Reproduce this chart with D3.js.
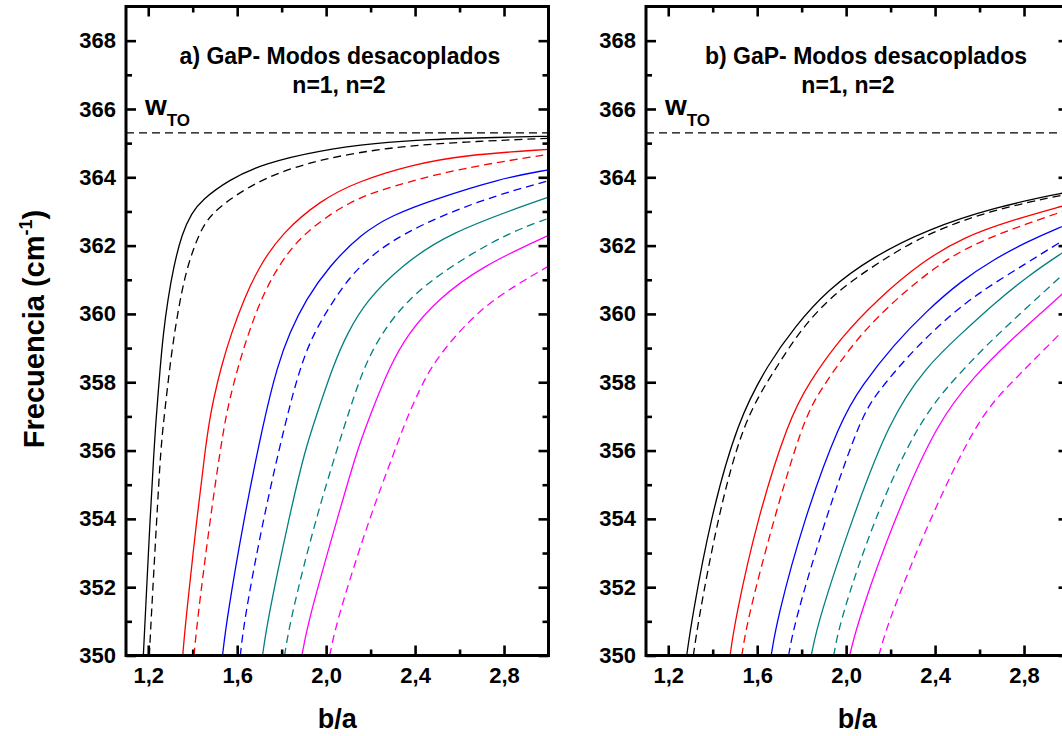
<!DOCTYPE html>
<html>
<head>
<meta charset="utf-8">
<script src="https://cdn.jsdelivr.net/npm/d3@7"></script>
<style>
body { margin: 0; background: #fff; }
</style>
</head>
<body>
<div id="chart"></div>
<script>
// axis ticks
var xMajor = [1.2, 1.6, 2.0, 2.4, 2.8];
var xMinor = [1.4, 1.8, 2.2, 2.6];
var yMajor = [350, 352, 354, 356, 358, 360, 362, 364, 366, 368];
var yMinor = [351, 353, 355, 357, 359, 361, 363, 365, 367];
var omegaTO = 365.3;

var lineColors = ["#000000", "#ff0000", "#0000ff", "#008080", "#ff00ff"];
var titlesA = ["a) GaP- Modos desacoplados", "n=1, n=2"];
var titlesB = ["b) GaP- Modos desacoplados", "n=1, n=2"];

// panel a, solid curves  [b/a, frecuencia]
var aSolidBlack = [[1.178,350],[1.186,351.05],[1.208,353.98],[1.226,356.02],[1.235,356.9],[1.254,358.46],[1.268,359.44],[1.288,360.41],[1.314,361.38],[1.352,362.36],[1.395,362.95],[1.44,363.33],[1.56,363.92],[1.72,364.41],[1.98,364.8],[2.22,365.0],[2.46,365.11],[2.78,365.17],[3.0,365.2]];
var aSolidRed = [[1.355,350],[1.369,351.05],[1.418,353.98],[1.456,356.02],[1.476,356.9],[1.493,357.49],[1.528,358.46],[1.574,359.44],[1.629,360.41],[1.698,361.38],[1.80,362.36],[1.975,363.33],[2.14,363.87],[2.38,364.36],[2.62,364.65],[3.0,364.82]];
var aSolidBlue = [[1.534,350],[1.553,351.05],[1.629,353.98],[1.72,356.9],[1.78,358.46],[1.835,359.44],[1.908,360.41],[2.011,361.38],[2.16,362.36],[2.30,362.9],[2.475,363.33],[2.78,363.96],[3.0,364.22]];
var aSolidTeal = [[1.714,350],[1.737,351.05],[1.831,353.98],[1.905,356.02],[1.95,356.9],[2.03,358.46],[2.095,359.44],[2.184,360.41],[2.334,361.38],[2.544,362.36],[2.96,363.33],[3.0,363.42]];
var aSolidMagenta = [[1.891,350],[1.921,351.05],[2.049,353.98],[2.14,356.02],[2.19,356.9],[2.285,358.46],[2.37,359.44],[2.499,360.41],[2.695,361.38],[3.0,362.3]];

// panel a, dashed curves
var aDashBlack = [[1.205,350],[1.213,351.05],[1.238,353.98],[1.256,356.02],[1.27,356.9],[1.297,358.46],[1.318,359.44],[1.343,360.41],[1.375,361.38],[1.428,362.36],[1.48,362.9],[1.56,363.33],[1.72,364.0],[1.98,364.55],[2.30,364.89],[2.62,365.04],[3.0,365.14]];
var aDashRed = [[1.406,350],[1.421,351.05],[1.478,353.98],[1.524,356.02],[1.547,356.9],[1.566,357.49],[1.604,358.46],[1.651,359.44],[1.706,360.41],[1.781,361.38],[1.894,362.36],[2.11,363.33],[2.29,363.72],[2.54,364.16],[2.78,364.45],[3.0,364.67]];
var aDashBlue = [[1.614,350],[1.632,351.05],[1.716,353.98],[1.819,356.9],[1.884,358.46],[1.944,359.44],[2.034,360.41],[2.139,361.38],[2.334,362.36],[2.687,363.33],[3.0,363.9]];
var aDashTeal = [[1.813,350],[1.839,351.05],[1.951,353.98],[2.09,356.9],[2.17,358.46],[2.25,359.44],[2.364,360.41],[2.552,361.38],[2.815,362.36],[3.0,362.8]];
var aDashMagenta = [[2.016,350],[2.049,351.05],[2.192,353.98],[2.31,356.02],[2.36,356.9],[2.40,357.49],[2.47,358.46],[2.59,359.44],[2.74,360.41],[3.0,361.4]];

// panel b, solid curves
var bSolidBlack = [[1.283,350],[1.306,351.05],[1.388,353.98],[1.513,356.9],[1.652,358.56],[1.77,359.63],[1.914,360.7],[2.124,361.69],[2.364,362.47],[2.665,363.12],[2.974,363.54],[3.0,363.57]];
var bSolidRed = [[1.478,350],[1.501,351.05],[1.599,353.98],[1.742,356.9],[1.83,357.97],[1.98,359.34],[2.139,360.41],[2.33,361.48],[2.53,362.26],[2.75,362.75],[2.974,363.16],[3.0,363.2]];
var bSolidBlue = [[1.663,350],[1.689,351.05],[1.809,353.98],[1.975,356.9],[2.07,357.9],[2.214,359.1],[2.364,360.1],[2.514,360.95],[2.665,361.6],[2.815,362.12],[2.974,362.57],[3.0,362.63]];
var bSolidTeal = [[1.843,350],[1.876,351.05],[2.026,353.98],[2.195,356.9],[2.36,358.46],[2.514,359.4],[2.665,360.3],[2.815,361.1],[2.974,361.8],[3.0,361.9]];
var bSolidMagenta = [[2.016,350],[2.055,351.05],[2.215,353.98],[2.415,356.9],[2.58,358.2],[2.735,359.2],[2.89,360.1],[2.974,360.6],[3.0,360.75]];

// panel b, dashed curves
var bDashBlack = [[1.313,350],[1.336,351.05],[1.421,353.98],[1.537,356.9],[1.689,358.46],[1.794,359.53],[1.944,360.6],[2.139,361.48],[2.364,362.37],[2.665,363.06],[2.974,363.48],[3.0,363.51]];
var bDashRed = [[1.531,350],[1.556,351.05],[1.674,353.98],[1.808,356.9],[1.885,357.78],[2.01,358.95],[2.139,359.92],[2.34,361.09],[2.53,361.93],[2.75,362.5],[2.974,363.0],[3.0,363.05]];
var bDashBlue = [[1.741,350],[1.771,351.05],[1.906,353.98],[2.061,356.9],[2.139,357.7],[2.289,358.85],[2.439,359.8],[2.59,360.6],[2.815,361.5],[2.974,362.15],[3.0,362.22]];
var bDashTeal = [[1.944,350],[1.974,351.05],[2.124,353.98],[2.327,356.9],[2.514,358.3],[2.665,359.3],[2.815,360.2],[2.974,361.15],[3.0,361.3]];
var bDashMagenta = [[2.147,350],[2.192,351.05],[2.375,353.98],[2.592,356.95],[2.74,357.97],[2.89,358.95],[2.974,359.5],[3.0,359.68]];

var fontFamily = '"Liberation Sans", Arial, sans-serif';

var svgWidth = 1062, svgHeight = 736;
var panelTop = 6.5;
var panelWidth = 422.5;
var panelHeight = 649;

var svg = d3.select("#chart").append("svg")
    .attr("width", svgWidth)
    .attr("height", svgHeight)
    .style("display", "block")
    .style("background", "#fff");

var x = d3.scaleLinear().domain([1.1, 3.0]).range([0, panelWidth]);
var y = d3.scaleLinear().domain([350, 369]).range([panelHeight, 0]);

var fmt = d => d.toFixed(1).replace(".", ",");

// smooth spline through the read-off points
var line = d3.line()
    .x(d => x(d[0]))
    .y(d => y(d[1]))
    .curve(d3.curveBasis);

function styleAxis(g, size) {
    g.attr("font-size", size)
        .attr("font-family", fontFamily)
        .attr("font-weight", "bold");
    g.select(".domain").remove();
    g.selectAll(".tick line").attr("stroke", "#000").attr("stroke-width", 2.6);
    g.selectAll(".tick text").attr("fill", "#000");
}

function drawPanel(left, id, solid, dashed, titles, titlePos) {
    var chartGroup = svg.append("g")
        .attr("transform", `translate(${left}, ${panelTop})`);

    chartGroup.append("clipPath").attr("id", "clip" + id)
        .append("rect")
        .attr("width", panelWidth)
        .attr("height", panelHeight);

    // bottom axis with labels, major + minor
    chartGroup.append("g")
        .attr("transform", `translate(0, ${panelHeight})`)
        .call(d3.axisBottom(x).tickValues(xMajor).tickSizeInner(-10).tickSizeOuter(0).tickPadding(12).tickFormat(fmt))
        .call(g => styleAxis(g, 22));
    chartGroup.append("g")
        .attr("transform", `translate(0, ${panelHeight})`)
        .call(d3.axisBottom(x).tickValues(xMinor).tickSizeInner(-6).tickSizeOuter(0).tickFormat(""))
        .call(g => styleAxis(g, 22));

    // top mirror
    chartGroup.append("g")
        .call(d3.axisTop(x).tickValues(xMajor).tickSizeInner(-10).tickSizeOuter(0).tickFormat(""))
        .call(g => styleAxis(g, 22));
    chartGroup.append("g")
        .call(d3.axisTop(x).tickValues(xMinor).tickSizeInner(-6).tickSizeOuter(0).tickFormat(""))
        .call(g => styleAxis(g, 22));

    // left axis
    chartGroup.append("g")
        .call(d3.axisLeft(y).tickValues(yMajor).tickSizeInner(-10).tickSizeOuter(0).tickPadding(10).tickFormat(d3.format("d")))
        .call(g => styleAxis(g, 22));
    chartGroup.append("g")
        .call(d3.axisLeft(y).tickValues(yMinor).tickSizeInner(-6).tickSizeOuter(0).tickFormat(""))
        .call(g => styleAxis(g, 22));

    // right mirror
    chartGroup.append("g")
        .attr("transform", `translate(${panelWidth}, 0)`)
        .call(d3.axisRight(y).tickValues(yMajor).tickSizeInner(-10).tickSizeOuter(0).tickFormat(""))
        .call(g => styleAxis(g, 22));
    chartGroup.append("g")
        .attr("transform", `translate(${panelWidth}, 0)`)
        .call(d3.axisRight(y).tickValues(yMinor).tickSizeInner(-6).tickSizeOuter(0).tickFormat(""))
        .call(g => styleAxis(g, 22));

    var curves = chartGroup.append("g").attr("clip-path", `url(#clip${id})`);

    // w_TO reference line
    curves.append("line")
        .attr("x1", x(1.1))
        .attr("x2", x(3.0))
        .attr("y1", y(omegaTO))
        .attr("y2", y(omegaTO))
        .attr("stroke", "#000")
        .attr("stroke-width", 1.2)
        .attr("stroke-dasharray", "8,5");

    curves.selectAll(".solid")
        .data(solid)
        .enter()
        .append("path")
        .attr("d", line)
        .attr("fill", "none")
        .attr("stroke", (d, i) => lineColors[i])
        .attr("stroke-width", 1.3);

    curves.selectAll(".dashed")
        .data(dashed)
        .enter()
        .append("path")
        .attr("d", line)
        .attr("fill", "none")
        .attr("stroke", (d, i) => lineColors[i])
        .attr("stroke-width", 1.3)
        .attr("stroke-dasharray", "8,5");

    // frame
    chartGroup.append("rect")
        .attr("width", panelWidth)
        .attr("height", panelHeight)
        .attr("fill", "none")
        .attr("stroke", "#000")
        .attr("stroke-width", 3);

    // titles
    chartGroup.append("text")
        .attr("x", titlePos[0])
        .attr("y", 64 - panelTop)
        .attr("text-anchor", "middle")
        .attr("font-family", fontFamily)
        .attr("font-weight", "bold")
        .attr("font-size", 23)
        .text(titles[0]);
    chartGroup.append("text")
        .attr("x", titlePos[1])
        .attr("y", 93 - panelTop)
        .attr("text-anchor", "middle")
        .attr("font-family", fontFamily)
        .attr("font-weight", "bold")
        .attr("font-size", 23)
        .text(titles[1]);

    // w_TO label
    var wLabel = chartGroup.append("text")
        .attr("x", 19)
        .attr("y", 115 - panelTop)
        .attr("font-family", fontFamily)
        .attr("font-weight", "bold")
        .attr("font-size", 28);
    wLabel.append("tspan").text("w");
    wLabel.append("tspan")
        .attr("dy", 11)
        .attr("font-size", 17)
        .text("TO");

    // x axis title
    chartGroup.append("text")
        .attr("x", panelWidth / 2)
        .attr("y", 728 - panelTop)
        .attr("text-anchor", "middle")
        .attr("font-family", fontFamily)
        .attr("font-weight", "bold")
        .attr("font-size", 27)
        .text("b/a");
}

drawPanel(126, "a",
    [aSolidBlack, aSolidRed, aSolidBlue, aSolidTeal, aSolidMagenta],
    [aDashBlack, aDashRed, aDashBlue, aDashTeal, aDashMagenta],
    titlesA, [214, 213]);

drawPanel(646, "b",
    [bSolidBlack, bSolidRed, bSolidBlue, bSolidTeal, bSolidMagenta],
    [bDashBlack, bDashRed, bDashBlue, bDashTeal, bDashMagenta],
    titlesB, [220, 202]);

// y axis title
var yTitle = svg.append("text")
    .attr("transform", "translate(44, 329) rotate(-90)")
    .attr("text-anchor", "middle")
    .attr("font-family", fontFamily)
    .attr("font-weight", "bold")
    .attr("font-size", 29);
yTitle.append("tspan").text("Frecuencia (cm");
yTitle.append("tspan").attr("font-size", 18).attr("dy", -12).text("-1");
yTitle.append("tspan").attr("dy", 12).text(")");
</script>
</body>
</html>
